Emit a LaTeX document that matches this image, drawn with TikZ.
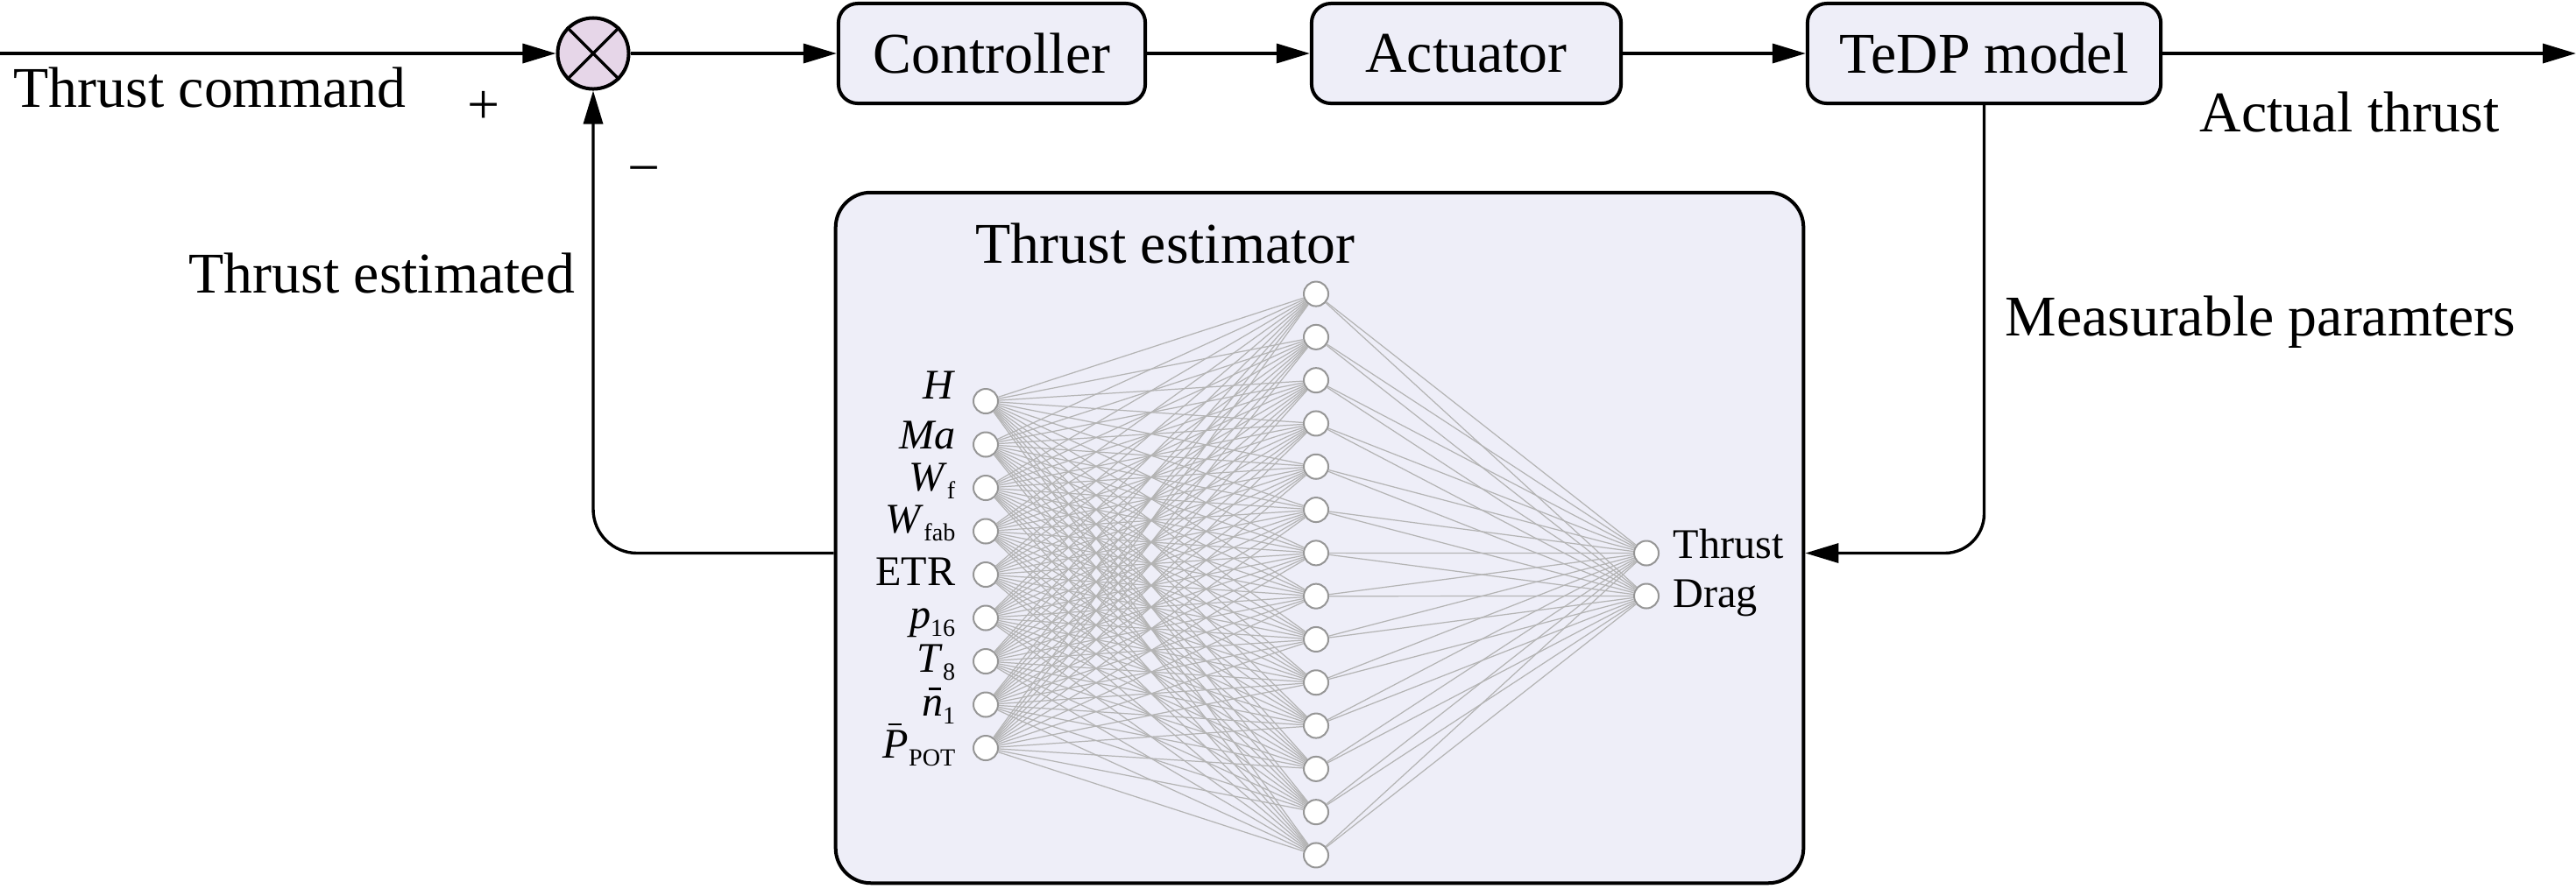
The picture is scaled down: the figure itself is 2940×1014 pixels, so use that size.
\documentclass[tikz,border=0pt]{standalone}
\usepackage{fontspec}
\setmainfont{Liberation Serif}
\usetikzlibrary{arrows.meta,calc}

\definecolor{boxfill}{RGB}{238,238,248}
\definecolor{sumfill}{RGB}{230,214,232}
\definecolor{netline}{RGB}{180,180,180}
\definecolor{nodeedge}{RGB}{150,150,150}

\newcommand{\mysub}[1]{\raisebox{-0.9mm}{\fontsize{8}{8}\selectfont #1}}
\newcommand{\mybar}[4]{\makebox[0pt][l]{\hspace{#3}\rule[#2]{#1}{0.055em}}\textit{#4}}

\begin{document}
\begin{tikzpicture}[x=0.01cm,y=-0.01cm,
  bigtext/.style={font=\fontsize{18.7}{20}\selectfont, inner sep=0pt},
  nettext/.style={font=\fontsize{13.7}{15}\selectfont, inner sep=0pt},
  blockbox/.style={draw, line width=0.04cm, rounded corners=0.22cm, fill=boxfill,
    minimum height=1.14cm, inner sep=0pt, font=\fontsize{18.7}{20}\selectfont},
  conn/.style={line width=0.034cm, -{Triangle[length=0.38cm,width=0.22cm]}},
  neuron/.style={circle, draw=nodeedge, fill=white, line width=0.02cm,
    minimum size=0.28cm, inner sep=0pt},
  wire/.style={draw=netline, line width=0.35pt},
]
\useasboundingbox (0,0) rectangle (2940,1014);

% top row
\coordinate (start) at (0,61);
\coordinate (end) at (2940,61);
\node[circle, draw, fill=sumfill, line width=0.04cm, minimum size=0.81cm, inner sep=0pt] (sum) at (677,61) {};
\draw[line width=0.035cm] (sum.north west) -- (sum.south east) (sum.north east) -- (sum.south west);
\node[blockbox, minimum width=3.50cm] (ctrl) at (1132,61) {Controller};
\node[blockbox, minimum width=3.53cm] (act) at (1673.5,61) {Actuator};
\node[blockbox, minimum width=4.03cm] (tedp) at (2264.5,61) {TeDP model};

% estimator box
\node[draw, line width=0.04cm, fill=boxfill, rounded corners=0.4cm,
  minimum width=11.04cm, minimum height=7.88cm, inner sep=0pt] (est) at (1506,614) {};
\node[bigtext, anchor=base west] (esttitle) at (1113,300) {Thrust estimator};

% network nodes
\foreach \i in {1,...,9} \node[neuron] (i\i) at (1125,{656+(\i-5)*49.5}) {};
\foreach \j in {1,...,14} \node[neuron] (h\j) at (1502,{656+(\j-7.5)*49.3}) {};
\node[neuron] (o1) at (1879,631.5) {};
\node[neuron] (o2) at (1879,680.5) {};

\foreach \i in {1,...,9} \foreach \j in {1,...,14} \draw[wire] (i\i) -- (h\j);
\foreach \j in {1,...,14} \foreach \k in {1,2} \draw[wire] (h\j) -- (o\k);

% input labels
\node[nettext, anchor=base east] (lH) at (1091,455) {\textit{H}};
\node[nettext, anchor=base east] (lMa) at (1091,512) {\textit{Ma}};
\node[nettext, anchor=base east] (lWf) at (1091,560) {\textit{W}\mysub{f}};
\node[nettext, anchor=base east] (lWfab) at (1091,608) {\textit{W}\mysub{fab}};
\node[nettext, anchor=base east] (lETR) at (1091,668) {ETR};
\node[nettext, anchor=base east] (lp) at (1091,717) {\textit{p}\mysub{16}};
\node[nettext, anchor=base east] (lT) at (1091,767) {\textit{T}\mysub{8}};
\node[nettext, anchor=base east] (ln) at (1091,817) {\mybar{0.3em}{0.6em}{0.16em}{n}\mysub{1}};
\node[nettext, anchor=base east] (lP) at (1091,865) {\mybar{0.32em}{0.76em}{0.12em}{P}\mysub{POT}};

% output labels
\node[nettext, anchor=base west] (lThrust) at (1909,637) {Thrust};
\node[nettext, anchor=base west] (lDrag) at (1909,693) {Drag};

% connectors
\draw[conn] (start) -- (sum.west);
\draw[conn] (sum.east) -- (ctrl.west);
\draw[conn] (ctrl.east) -- (act.west);
\draw[conn] (act.east) -- (tedp.west);
\draw[conn] (tedp.east) -- (end);
\draw[conn, rounded corners=0.5cm] (est.west |- o1) -| (sum.south);
\draw[conn, rounded corners=0.45cm] (tedp.south) |- (est.east |- o1);

% texts
\node[bigtext, anchor=base west] (tcmd) at (15,122) {Thrust command};
\node[bigtext] (plus) at (552,123) {+};
\node[bigtext] (minus) at (735,202) {−};
\node[bigtext, anchor=base west] (test) at (215,334) {Thrust estimated};
\node[bigtext, anchor=base west] (tact) at (2510,150) {Actual thrust};
\node[bigtext, anchor=base west] (tmeas) at (2288,383) {Measurable paramters};
\end{tikzpicture}
\end{document}
